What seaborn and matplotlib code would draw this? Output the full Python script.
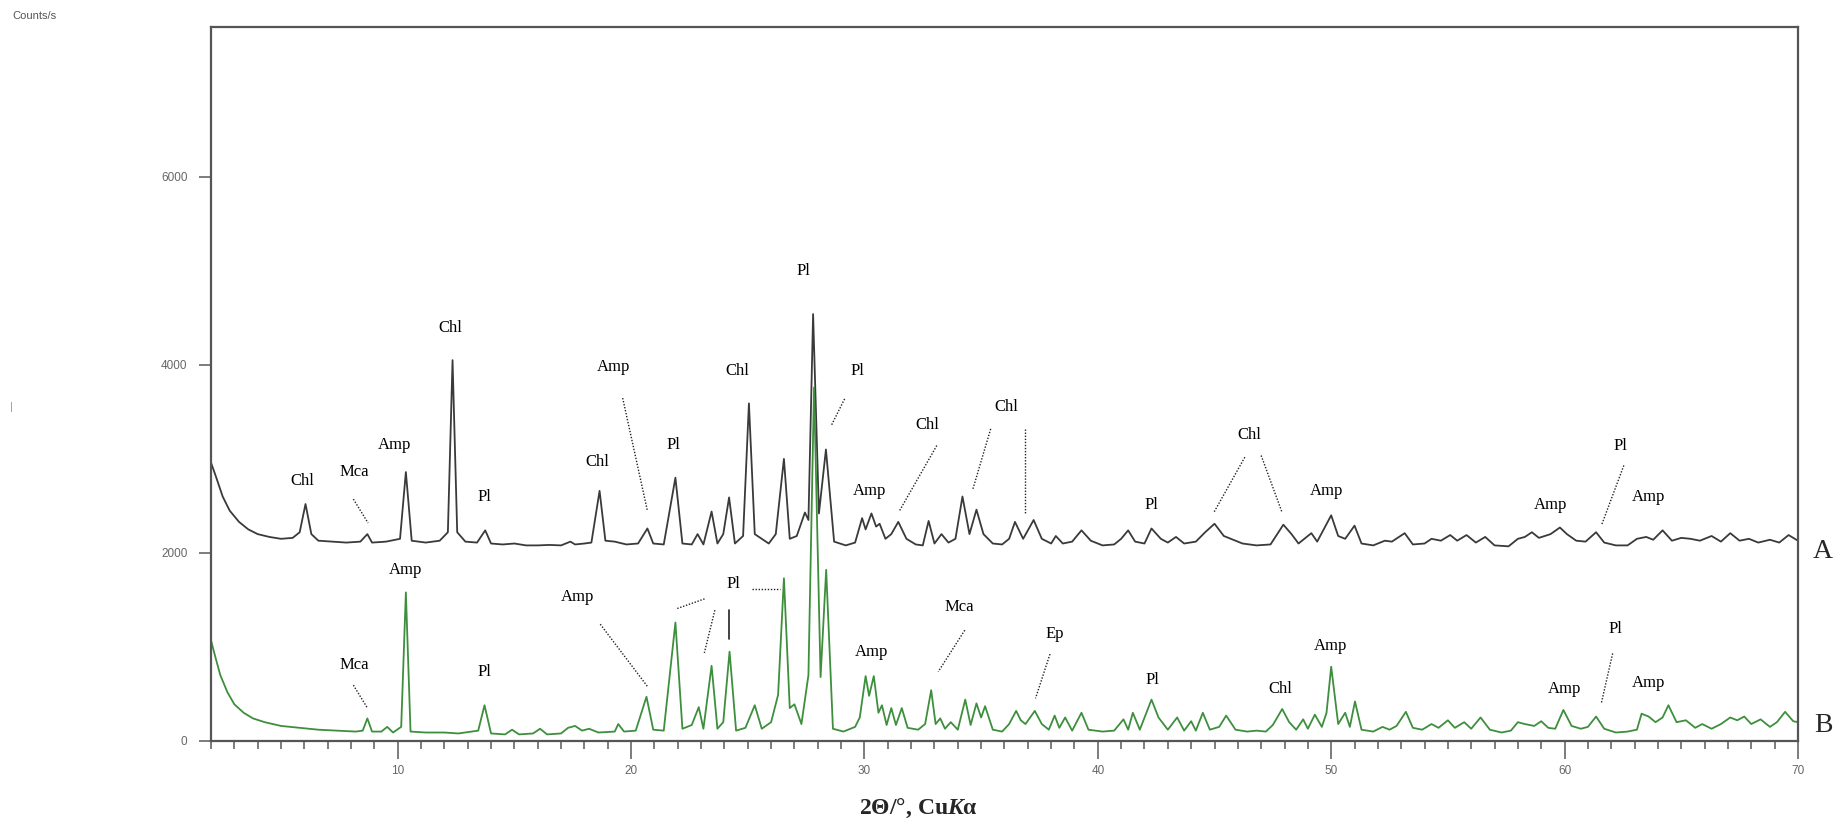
import numpy as np
import pandas as pd
import matplotlib
matplotlib.use("Agg")
import matplotlib.pyplot as plt
from matplotlib.ticker import MultipleLocator
import seaborn as sns

# pattern A (upper, grey)
a_2theta = [2.0, 2.2, 2.5, 2.8, 3.2, 3.6, 4.0, 4.5, 5.0, 5.5, 5.8, 6.05, 6.3, 6.6, 7.2, 7.8, 8.4, 8.7, 8.9,
            9.5, 10.1, 10.35, 10.6, 11.2, 11.8, 12.15, 12.35, 12.55, 12.9, 13.4, 13.75, 14.0, 14.5, 15.0, 15.5,
            16.0, 16.5, 17.0, 17.4, 17.6, 18.0, 18.3, 18.65, 18.9, 19.3, 19.8, 20.3, 20.7, 20.95, 21.4, 21.9,
            22.2, 22.6, 22.85, 23.1, 23.45, 23.7, 23.95, 24.2, 24.45, 24.8, 25.05, 25.3, 25.6, 25.9, 26.2,
            26.55, 26.8, 27.1, 27.45, 27.6, 27.8, 28.05, 28.35, 28.7, 29.2, 29.6, 29.9, 30.05, 30.3, 30.5,
            30.65, 30.9, 31.15, 31.45, 31.8, 32.2, 32.5, 32.75, 33.0, 33.3, 33.6, 33.9, 34.2, 34.5, 34.8,
            35.1, 35.5, 35.9, 36.2, 36.45, 36.8, 37.25, 37.6, 38.0, 38.2, 38.5, 38.9, 39.3, 39.7, 40.2,
            40.7, 41.0, 41.3, 41.6, 42.0, 42.3, 42.7, 43.0, 43.35, 43.7, 44.2, 44.6, 45.0, 45.4, 45.8,
            46.2, 46.8, 47.4, 47.95, 48.3, 48.6, 48.9, 49.15, 49.4, 50.0, 50.3, 50.6, 51.0, 51.3, 51.8,
            52.3, 52.6, 53.15, 53.5, 54.0, 54.3, 54.7, 55.1, 55.4, 55.8, 56.2, 56.6, 57.0, 57.6, 58.0,
            58.3, 58.6, 58.9, 59.4, 59.8, 60.1, 60.5, 60.9, 61.35, 61.7, 62.2, 62.7, 63.1, 63.5, 63.8,
            64.2, 64.6, 65.0, 65.4, 65.8, 66.3, 66.7, 67.1, 67.5, 67.9, 68.3, 68.8, 69.2, 69.6, 70.0]
a_counts = [2960, 2820, 2600, 2450, 2330, 2250, 2200, 2170, 2150, 2160, 2220, 2520, 2200, 2130, 2120, 2110, 2120, 2200, 2110,
            2120, 2150, 2860, 2130, 2110, 2130, 2220, 4050, 2220, 2120, 2110, 2240, 2100, 2090, 2100, 2080,
            2080, 2085, 2080, 2120, 2090, 2100, 2110, 2660, 2130, 2120, 2090, 2100, 2260, 2100, 2090, 2800,
            2100, 2090, 2200, 2090, 2440, 2100, 2200, 2590, 2100, 2180, 3590, 2200, 2150, 2100, 2200,
            3000, 2150, 2180, 2430, 2350, 4540, 2420, 3100, 2120, 2080, 2110, 2370, 2250, 2420, 2280,
            2310, 2150, 2200, 2330, 2150, 2090, 2080, 2340, 2100, 2200, 2110, 2150, 2600, 2200, 2460,
            2200, 2100, 2090, 2150, 2330, 2150, 2350, 2150, 2100, 2180, 2100, 2120, 2240, 2130, 2080,
            2090, 2150, 2240, 2120, 2100, 2260, 2150, 2110, 2170, 2100, 2120, 2220, 2310, 2180, 2140,
            2100, 2080, 2090, 2300, 2200, 2100, 2160, 2210, 2120, 2400, 2180, 2150, 2290, 2100, 2080,
            2130, 2120, 2210, 2090, 2100, 2150, 2130, 2190, 2130, 2190, 2110, 2170, 2080, 2070, 2150,
            2170, 2220, 2160, 2200, 2270, 2200, 2130, 2120, 2220, 2110, 2080, 2080, 2150, 2170, 2140,
            2240, 2130, 2160, 2150, 2130, 2180, 2120, 2210, 2130, 2150, 2110, 2140, 2110, 2190, 2130]

# pattern B (lower, green)
b_2theta = [2.0, 2.2, 2.4, 2.7, 3.0, 3.4, 3.8, 4.3, 5.0, 5.8, 6.6, 7.4, 8.2, 8.5, 8.7, 8.9, 9.3, 9.55, 9.8,
            10.15, 10.35, 10.55, 11.2, 12.0, 12.6, 13.45, 13.72, 14.0, 14.6, 14.9, 15.2, 15.8, 16.1, 16.4,
            17.0, 17.3, 17.6, 17.9, 18.2, 18.6, 19.3, 19.45, 19.7, 20.2, 20.66, 20.95, 21.4, 21.9, 22.2,
            22.6, 22.9, 23.1, 23.45, 23.7, 23.95, 24.22, 24.5, 24.9, 25.3, 25.6, 26.0, 26.3, 26.55, 26.8,
            27.0, 27.3, 27.6, 27.84, 28.12, 28.36, 28.65, 29.1, 29.6, 29.8, 30.05, 30.2, 30.4, 30.6, 30.75,
            30.95, 31.15, 31.35, 31.6, 31.85, 32.3, 32.6, 32.86, 33.05, 33.25, 33.45, 33.7, 34.0, 34.32,
            34.55, 34.8, 35.0, 35.17, 35.5, 35.9, 36.2, 36.5, 36.7, 36.9, 37.3, 37.6, 37.9, 38.15, 38.35,
            38.6, 38.9, 39.3, 39.6, 40.2, 40.7, 41.1, 41.3, 41.5, 41.8, 42.3, 42.6, 43.0, 43.4, 43.7,
            44.0, 44.2, 44.5, 44.8, 45.2, 45.5, 45.9, 46.4, 46.8, 47.2, 47.5, 47.9, 48.2, 48.5, 48.8,
            49.0, 49.3, 49.6, 49.8, 50.0, 50.3, 50.6, 50.8, 51.02, 51.3, 51.8, 52.2, 52.5, 52.8, 53.2,
            53.5, 53.9, 54.3, 54.6, 55.0, 55.3, 55.7, 56.0, 56.4, 56.8, 57.3, 57.7, 58.0, 58.3, 58.7,
            59.0, 59.3, 59.6, 59.95, 60.3, 60.7, 61.0, 61.35, 61.7, 62.2, 62.7, 63.1, 63.3, 63.6, 63.9,
            64.2, 64.45, 64.8, 65.2, 65.6, 65.9, 66.3, 66.7, 67.1, 67.4, 67.7, 68.0, 68.4, 68.8, 69.1,
            69.45, 69.8, 70.0]
b_counts = [1070, 880, 700, 520, 390, 300, 240, 200, 160, 140, 120, 110, 100, 110, 240, 100, 100, 150, 90,
            150, 1580, 100, 90, 90, 80, 110, 380, 80, 70, 120, 70, 80, 130, 70,
            80, 140, 160, 110, 130, 90, 100, 180, 100, 110, 470, 120, 110, 1260, 130,
            170, 360, 130, 800, 130, 200, 950, 110, 140, 380, 130, 200, 490, 1730, 350,
            390, 180, 700, 3760, 680, 1820, 130, 100, 150, 250, 690, 480, 690, 300, 380,
            170, 350, 170, 350, 140, 120, 180, 540, 180, 240, 130, 200, 120, 440,
            170, 400, 250, 370, 120, 100, 180, 320, 220, 180, 320, 180, 120, 270, 140,
            250, 110, 300, 120, 100, 110, 230, 120, 300, 120, 440, 250, 120, 250, 110,
            210, 110, 300, 120, 150, 270, 120, 100, 110, 100, 170, 340, 200, 120, 230,
            130, 280, 150, 300, 790, 180, 300, 150, 420, 120, 100, 150, 120, 160, 310,
            140, 120, 180, 140, 220, 140, 200, 130, 250, 120, 90, 110, 200, 180, 160,
            210, 140, 130, 330, 160, 130, 150, 260, 130, 90, 100, 120, 290, 260, 200,
            250, 380, 200, 220, 140, 180, 130, 180, 250, 220, 260, 180, 230, 150, 200,
            310, 210, 200]

# phase labels (text, 2theta, counts)
a_labels = ["Chl", "Mca", "Amp", "Chl", "Pl", "Chl", "Amp", "Pl", "Chl", "Pl",
            "Pl", "Amp", "Chl", "Chl", "Pl", "Chl", "Amp", "Amp", "Pl", "Amp"]
a_label_x = [5.9, 8.15, 9.85, 12.25, 13.7, 18.55, 19.25, 21.8, 24.55, 27.4,
             29.72, 30.2, 32.7, 36.1, 42.3, 46.5, 49.8, 59.4, 62.4, 63.6]
a_label_y = [2770, 2860, 3150, 4390, 2600, 2970, 3980, 3150, 3940, 5000,
             3940, 2660, 3365, 3550, 2510, 3250, 2655, 2505, 3140, 2590]

b_labels = ["Mca", "Amp", "Pl", "Amp", "Pl", "Amp", "Mca", "Ep", "Pl", "Chl",
            "Amp", "Amp", "Pl", "Amp"]
b_label_x = [8.15, 10.33, 13.72, 17.69, 24.4, 30.29, 34.06, 38.15, 42.32, 47.8,
             49.96, 59.98, 62.18, 63.6]
b_label_y = [810, 1815, 736, 1532, 1670, 948, 1426, 1143, 648, 550,
             1008, 549, 1196, 612]

# leader lines (x0, y0, x1, y1)
leaders = [(8.1, 2572, 8.73, 2318), (19.64, 3647, 20.7, 2448), (29.15, 3638, 28.58, 3355),
           (33.1, 3142, 31.51, 2452), (35.41, 3319, 34.63, 2665), (36.87, 3319, 36.87, 2417),
           (46.3, 3018, 44.98, 2434), (47.0, 3036, 47.89, 2434), (62.54, 2930, 61.58, 2293),
           (8.1, 594, 8.71, 347), (18.68, 1242, 20.71, 577), (21.98, 1409, 23.19, 1515),
           (23.59, 1391, 23.14, 937), (25.2, 1621, 26.4, 1621), (34.3, 1178, 33.16, 736),
           (37.95, 924, 37.33, 453), (62.06, 931, 61.58, 407)]
solid_leaders = [(24.2, 1391, 24.2, 1080)]

x_ticks = [10, 20, 30, 40, 50, 60, 70]
y_ticks = [0, 2000, 4000, 6000]

df_a = pd.DataFrame({"two_theta": a_2theta, "counts": a_counts})
df_b = pd.DataFrame({"two_theta": b_2theta, "counts": b_counts})

sns.set_style("ticks")
plt.rcParams["font.family"] = ["Liberation Sans", "DejaVu Sans"]
plt.rcParams["mathtext.fontset"] = "custom"
plt.rcParams["mathtext.it"] = "Liberation Serif:italic:bold"

fig = plt.figure(figsize=(18.38, 8.32), dpi=100)
ax = fig.add_axes([0.1148, 0.1094, 0.8634, 0.8578])

sns.lineplot(data=df_a, x="two_theta", y="counts", ax=ax, color="#3a3a3a", lw=1.3, estimator=None, sort=False)
sns.lineplot(data=df_b, x="two_theta", y="counts", ax=ax, color="#3d8f3d", lw=1.3, estimator=None, sort=False)

serif = ["Liberation Serif", "DejaVu Serif"]
for t, x, y in zip(a_labels, a_label_x, a_label_y):
    ax.text(x, y, t, ha="center", va="center", fontsize=12, family=serif, color="black")
for t, x, y in zip(b_labels, b_label_x, b_label_y):
    ax.text(x, y, t, ha="center", va="center", fontsize=12, family=serif, color="black")
for x0, y0, x1, y1 in leaders:
    ax.plot([x0, x1], [y0, y1], color="#222222", lw=1.0, ls=(0, (1, 1.2)))
for x0, y0, x1, y1 in solid_leaders:
    ax.plot([x0, x1], [y0, y1], color="#222222", lw=1.2)

ax.set_xlim(2, 70)
ax.set_ylim(0, 7590)
ax.set_xticks(x_ticks)
ax.set_xticklabels([str(v) for v in x_ticks])
ax.xaxis.set_minor_locator(MultipleLocator(1))
ax.set_yticks(y_ticks)
ax.set_yticklabels([str(v) for v in y_ticks])
ax.tick_params(axis="x", which="major", length=13, width=1.2, color="#666666",
               labelsize=8.5, labelcolor="#666666", pad=4)
ax.tick_params(axis="x", which="minor", length=6, width=1.2, color="#666666")
ax.tick_params(axis="y", which="major", length=9, width=1.2, color="#666666",
               labelsize=8.5, labelcolor="#666666", pad=8)
for s in ax.spines.values():
    s.set_visible(True)
    s.set_color("#555555")
    s.set_linewidth(1.6)
ax.set_xlabel("")
ax.set_ylabel("")

fig.text(0.4995, 0.028, r"2Θ/°, Cu$K$α", ha="center", va="center", fontsize=17,
         fontweight="bold", family=serif)
fig.text(1823 / 1838, 1 - 551 / 832, "A", ha="center", va="center", fontsize=20, family=serif)
fig.text(1823 / 1838, 1 - 726 / 832, "B", ha="center", va="center", fontsize=20, family=serif)
fig.text(12 / 1838, 1 - 16 / 832, "Counts/s", ha="left", va="center", fontsize=8, color="#555555")
fig.text(10 / 1838, 1 - 407 / 832, "|", ha="left", va="center", fontsize=8, color="#999999")

fig.savefig("out.png", dpi=100)
